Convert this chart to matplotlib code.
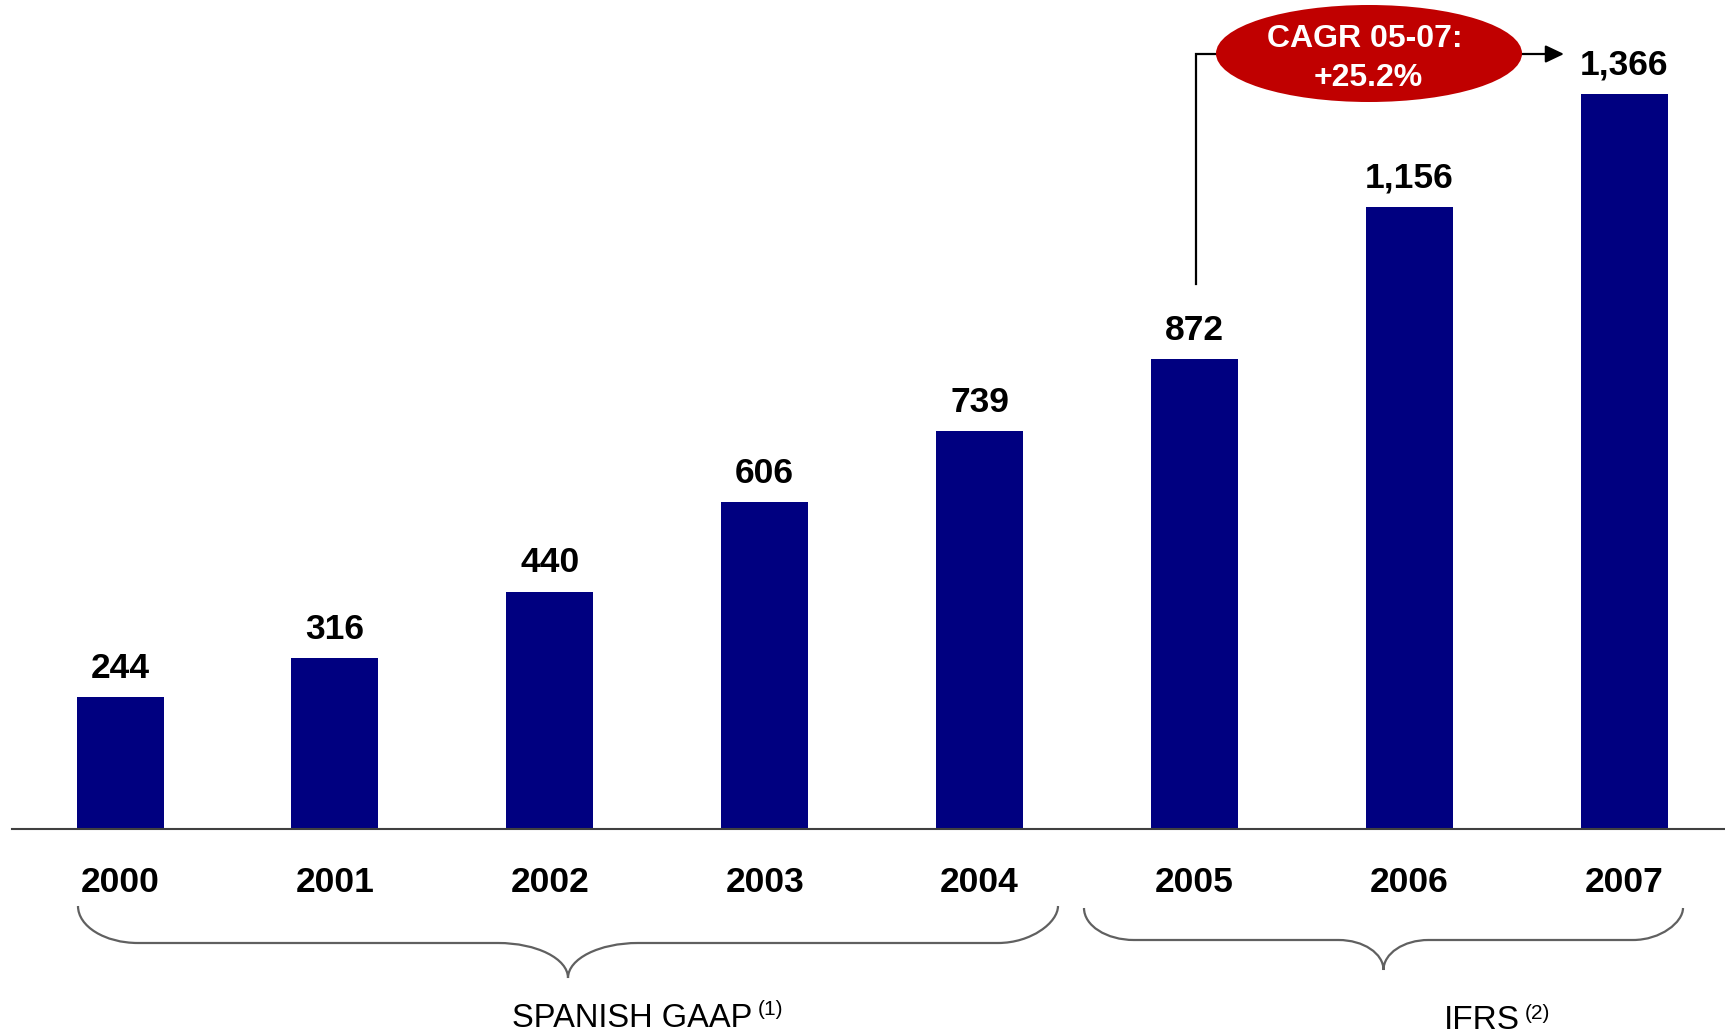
import matplotlib
matplotlib.use("Agg")
import matplotlib.pyplot as plt
from matplotlib.patches import Ellipse, PathPatch
from matplotlib.path import Path
import numpy as np

# ---- data ----
years = ["2000", "2001", "2002", "2003", "2004", "2005", "2006", "2007"]
values = [244, 316, 440, 606, 739, 872, 1156, 1366]
value_labels = ["244", "316", "440", "606", "739", "872", "1,156", "1,366"]
group_names = ["SPANISH GAAP", "IFRS"]
group_notes = ["(1)", "(2)"]
cagr_lines = ["CAGR 05-07:", "+25.2%"]

plt.rcParams['font.family'] = ['Liberation Sans', 'DejaVu Sans']

W, H = 1725, 1034
fig = plt.figure(figsize=(W / 100, H / 100), dpi=100)

base_px = 828.5
ax = fig.add_axes([12 / W, (H - base_px) / H, 1 - 12 / W, base_px / H])
x = np.arange(len(values))
ax.bar(x, values, width=0.405, color='#000080', zorder=2)
ax.set_xlim(-0.503, 7.469)
ax.set_ylim(0, 1540)
for s in ['top', 'right', 'left']:
    ax.spines[s].set_visible(False)
ax.spines['bottom'].set_color('#404040')
ax.spines['bottom'].set_linewidth(1.5)
ax.set_yticks([])
ax.set_xticks(x)
ax.set_xticklabels(years, fontsize=25.5, fontweight='bold')
ax.tick_params(axis='x', length=0, pad=27.3)
ax.patch.set_alpha(0)

for xi, v, lab in zip(x, values, value_labels):
    ax.annotate(lab, (xi, v), xytext=(0, 13.9), textcoords='offset points',
                ha='center', va='baseline', fontsize=25.5, fontweight='bold')

# ---- overlay in pixel coordinates ----
ov = fig.add_axes([0, 0, 1, 1])
ov.set_xlim(0, W)
ov.set_ylim(H, 0)
ov.axis('off')
ov.patch.set_alpha(0)


def brace(x0, x1, ytop, yflat, ytip, rx, rtx, xm=None):
    k = 0.552
    if xm is None:
        xm = (x0 + x1) / 2
    dy = yflat - ytop
    dt = ytip - yflat
    verts = [
        (x0, ytop),
        (x0, ytop + k * dy), (x0 + rx - k * rx, yflat), (x0 + rx, yflat),
        (xm - rtx, yflat),
        (xm - rtx + k * rtx, yflat), (xm, ytip - k * dt), (xm, ytip),
        (xm, ytip - k * dt), (xm + rtx - k * rtx, yflat), (xm + rtx, yflat),
        (x1 - rx, yflat),
        (x1 - rx + k * rx, yflat), (x1, yflat - k * dy), (x1, ytop),
    ]
    codes = [Path.MOVETO,
             Path.CURVE4, Path.CURVE4, Path.CURVE4,
             Path.LINETO,
             Path.CURVE4, Path.CURVE4, Path.CURVE4,
             Path.CURVE4, Path.CURVE4, Path.CURVE4,
             Path.LINETO,
             Path.CURVE4, Path.CURVE4, Path.CURVE4]
    ov.add_patch(PathPatch(Path(verts, codes), facecolor='none',
                           edgecolor='#606060', lw=1.6))


brace(78, 1058, 906, 943, 978, 60, 70)
brace(1084, 1683, 908, 940, 970, 50, 45)

# group labels
ov.text(512, 1027, group_names[0], fontsize=23.5, ha='left', va='baseline')
ov.text(758, 1015, group_notes[0], fontsize=15, ha='left', va='baseline')
ov.text(1444, 1029, group_names[1], fontsize=24, ha='left', va='baseline')
ov.text(1525, 1019, group_notes[1], fontsize=15, ha='left', va='baseline')

# CAGR annotation
ov.plot([1196, 1196, 1230], [284, 54, 54], color='black', lw=1.6, zorder=3,
        solid_joinstyle='miter')
ov.annotate('', xy=(1564, 54), xytext=(1500, 54),
            arrowprops=dict(arrowstyle='-|>,head_length=0.8,head_width=0.38',
                            mutation_scale=14, color='black', lw=1.6,
                            shrinkA=0, shrinkB=0), zorder=3)
ov.add_patch(Ellipse((1369, 53.5), 306, 97, facecolor='#C00000',
                     edgecolor='none', zorder=4))
ov.text(1365, 47, cagr_lines[0], fontsize=23, fontweight='bold', color='white',
        ha='center', va='baseline', zorder=5)
ov.text(1368, 86, cagr_lines[1], fontsize=23, fontweight='bold', color='white',
        ha='center', va='baseline', zorder=5)

fig.savefig('out.png', dpi=100)
